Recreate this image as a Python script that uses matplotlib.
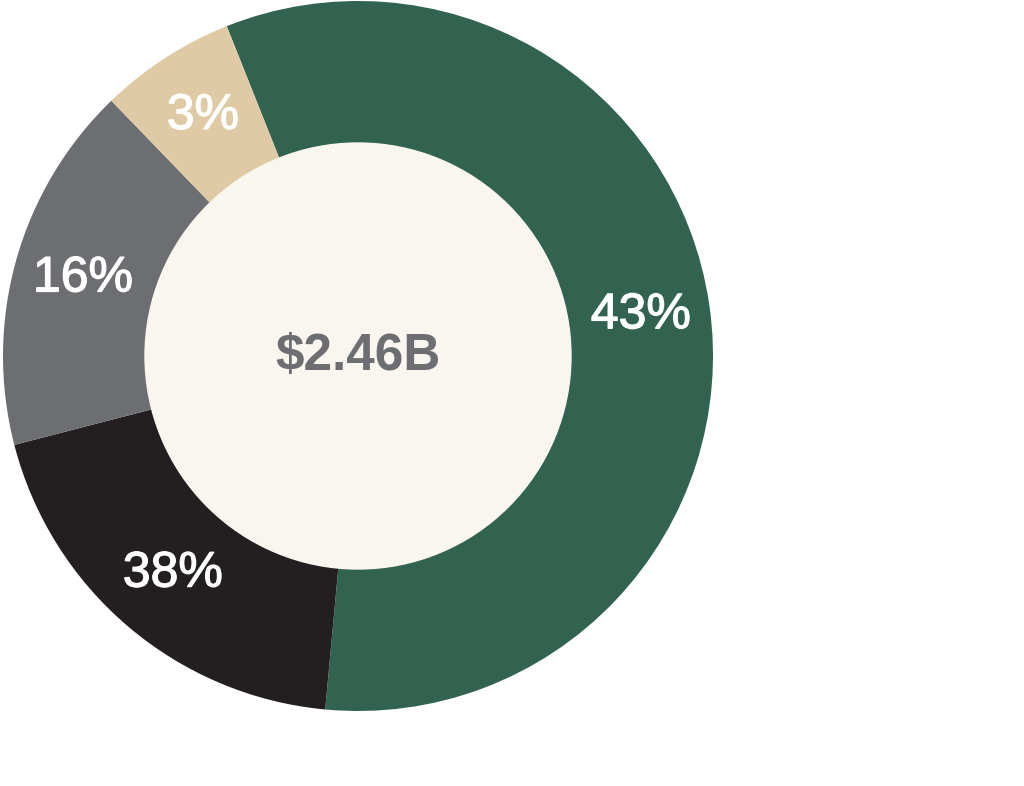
import numpy as np
import matplotlib
matplotlib.use("Agg")
import matplotlib.pyplot as plt
import matplotlib.patheffects as pe

# arc sizes (clockwise from the green segment)
shares = [57.5, 19.5, 16.8, 6.2]
labels = ["43%", "38%", "16%", "3%"]
colors = ["#326350", "#231f20", "#6d6e72", "#e0caa5"]
total = "$2.46B"

plt.rcParams['font.family'] = ['Liberation Sans', 'DejaVu Sans']

fig = plt.figure(figsize=(10.24, 7.86), dpi=100)
ax = fig.add_axes([3 / 1024, 75 / 786, 710 / 1024, 710 / 786])

wedges, _ = ax.pie(shares, colors=colors, startangle=111.7, counterclock=False,
                   radius=1, wedgeprops=dict(width=0.4, linewidth=0))
ax.add_patch(plt.Circle((0, 0), 0.6, color="#f9f6ef", zorder=3))

for w, lab in zip(wedges, labels):
    mid = np.deg2rad((w.theta1 + w.theta2) / 2)
    ax.text(0.805 * np.cos(mid), 0.805 * np.sin(mid), lab, ha="center", va="center",
            color="white", fontsize=36, zorder=4,
            path_effects=[pe.withStroke(linewidth=0.9, foreground="white")])

ax.text(0, 0, total, ha="center", va="center", color="#6d6e72",
        fontsize=37, fontweight="bold", zorder=4)

ax.set_xlim(-1, 1)
ax.set_ylim(-1, 1)
ax.set_aspect("equal")
ax.axis("off")

fig.savefig("out.png", dpi=100, facecolor="white")
